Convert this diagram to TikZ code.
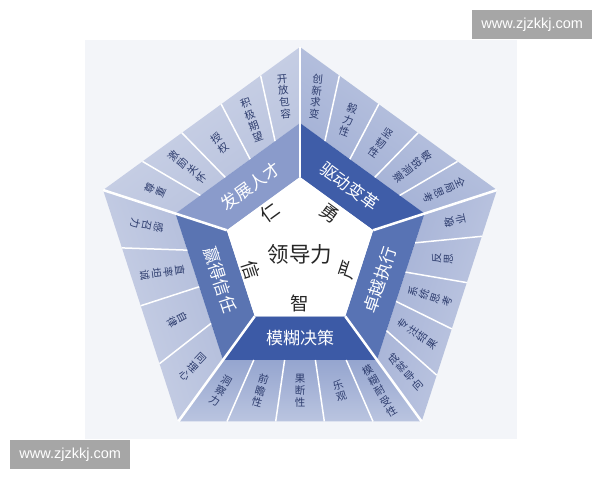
\documentclass[tikz,border=0pt]{standalone}
\usepackage{fontspec}
\usepackage{xcolor}
\usepackage{tikz}
\usetikzlibrary{calc}

\newfontfamily\cjk{Noto Sans CJK SC}
\newfontfamily\wmfont{Liberation Sans}

\definecolor{panel}{HTML}{F3F5F9}
\definecolor{celltext}{HTML}{2E3D6E}
\definecolor{wmgray}{HTML}{A6A6A6}
\definecolor{bandFZ}{HTML}{8A9BCB}
\definecolor{bandQD}{HTML}{3F5DA8}
\definecolor{bandZY}{HTML}{5873B4}
\definecolor{bandMH}{HTML}{3C5AA6}
\definecolor{bandYD}{HTML}{5A74B2}
\definecolor{stripFZ}{HTML}{B7C1DD}
\definecolor{stripQD}{HTML}{A0AED4}
\definecolor{stripZY}{HTML}{A3B0D5}
\definecolor{stripMH}{HTML}{95A5CF}
\definecolor{stripYD}{HTML}{B0BBDA}

\tikzset{
  cell/.style={font=\cjk\fontsize{10.5}{11.8}\selectfont, text=celltext, align=center, inner sep=0pt},
  band/.style={font=\cjk\fontsize{17}{17}\selectfont, text=white},
  core/.style={font=\cjk\fontsize{18.5}{18.5}\selectfont, text=black!85},
  cellline/.style={white, line width=1.5pt},
  sideline/.style={white, line width=2.5pt},
  wmark/.style={fill=wmgray, text=white, font=\wmfont\fontsize{14.5}{14.5}\selectfont,
    minimum width=120pt, minimum height=29pt, anchor=north west}
}

% one side of the pentagon: #1 name, #2 normal angle, #3 label angle, #4 flip,
% #5 number of cells, #6 band colour, #7 strip colour, #8 label, #9 cells
\newcommand\leadside[9]{%
  \coordinate (#1-o1) at ($(C)+(#2+36:207)$);
  \coordinate (#1-o2) at ($(C)+(#2-36:207)$);
  \coordinate (#1-m1) at ($(C)+(#2+36:131)$);
  \coordinate (#1-m2) at ($(C)+(#2-36:131)$);
  \coordinate (#1-i1) at ($(C)+(#2+36:77)$);
  \coordinate (#1-i2) at ($(C)+(#2-36:77)$);
  \pgfmathsetmacro\sa{#2-90}
  \shade[top color=#7!65!white, bottom color=#7, shading angle=\sa]
    (#1-o1) -- (#1-o2) -- (#1-m2) -- (#1-m1) -- cycle;
  \fill[#6] (#1-m1) -- (#1-m2) -- (#1-i2) -- (#1-i1) -- cycle;
  \foreach \t [count=\k] in {#9} {
    \pgfmathsetmacro\fa{\k/#5}
    \pgfmathsetmacro\fm{(\k-0.5)/#5}
    \ifnum\k<#5 \draw[cellline] ($(#1-o1)!\fa!(#1-o2)$) -- ($(#1-m1)!\fa!(#1-m2)$); \fi
    \coordinate (#1-po\k) at ($(#1-o1)!\fm!(#1-o2)$);
    \coordinate (#1-pm\k) at ($(#1-m1)!\fm!(#1-m2)$);
    \path let \p1=($(#1-po\k)-(#1-pm\k)$), \n1={atan2(\y1,\x1)+90+#4} in
      node (#1-c\k) [cell, rotate=\n1] at ($(#1-po\k)!0.5!(#1-pm\k)$) {\t};
  }
  \node (#1-lab) [band, rotate=#3] at ($(C)+(#2:84)$) {#8};
}

\begin{document}
\begin{tikzpicture}[x=1pt,y=1pt]
\useasboundingbox (0,0) rectangle (600,-480);
\fill[panel] (85,-40) rectangle (517,-439);
\coordinate (C) at (300,-254);

\leadside{fz}{126}{36}{180}{5}{bandFZ}{stripFZ}{发展人才}
  {{尊\\重},{激\\励\\关\\怀},{授\\权},{积\\极\\期\\望},{开\\放\\包\\容}}
\leadside{qd}{54}{-36}{180}{5}{bandQD}{stripQD}{驱动变革}
  {{创\\新\\求\\变},{毅\\力\\性},{坚\\韧\\性},{敏\\锐\\洞\\察},{全\\局\\思\\考}}
\leadside{zy}{-18}{72}{0}{5}{bandZY}{stripZY}{卓越执行}
  {{敬\\业},{反\\思},{系\\统\\思\\考},{专\\注\\结\\果},{成\\就\\导\\向}}
\leadside{mh}{-90}{0}{0}{5}{bandMH}{stripMH}{模糊决策}
  {{模\\糊\\耐\\受\\性},{乐\\观},{果\\断\\性},{前\\瞻\\性},{洞\\察\\力}}
\leadside{yd}{-162}{-72}{0}{4}{bandYD}{stripYD}{赢得信任}
  {{同\\理\\心},{自\\律},{直\\率\\坦\\诚},{感\\召\\力}}

% white core
\fill[white] ($(C)+(90:77)$) -- ($(C)+(18:77)$) -- ($(C)+(-54:77)$)
  -- ($(C)+(-126:77)$) -- ($(C)+(162:77)$) -- cycle;
\foreach \a in {90,18,-54,-126,162}
  \draw[sideline] ($(C)+(\a:207)$) -- ($(C)+(\a:77)$);

\path (C) node(lead) [core, font=\cjk\fontsize{21.5}{21.5}\selectfont] {领导力}
  ($(C)+(126:51)$) node(ren) [core, rotate=36] {仁}
  ($(C)+(54:50)$) node(yong) [core, rotate=-36] {勇}
  ($(C)+(-18:51)$) node(yan) [core, rotate=72] {严}
  ($(C)+(-90:49)$) node(zhi) [core] {智}
  ($(C)+(-162:51)$) node(xin) [core, rotate=-72] {信};

\node (wm1) [wmark] at (472,-10) {www.zjzkkj.com};
\node (wm2) [wmark] at (10,-440) {www.zjzkkj.com};
\end{tikzpicture}
\end{document}
